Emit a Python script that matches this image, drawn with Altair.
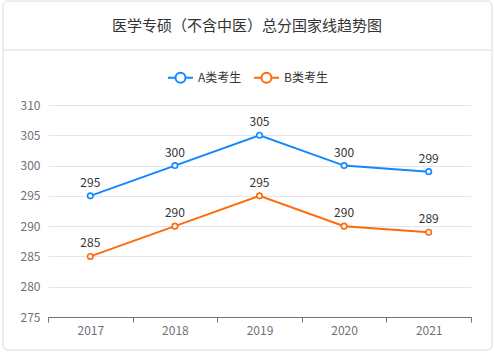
import altair as alt
import pandas as pd

years = ["2017", "2018", "2019", "2020", "2021"]
series_a = [295, 300, 305, 300, 299]
series_b = [285, 290, 295, 290, 289]
series_names = ["A类考生", "B类考生"]
colors = ["#1288ff", "#ff6a0a"]
title_text = "医学专硕（不含中医）总分国家线趋势图"
y_ticks = [275, 280, 285, 290, 295, 300, 305, 310]

rows = []
for name, vals in zip(series_names, [series_a, series_b]):
    for y, v in zip(years, vals):
        rows.append({"year": y, "score": v, "group": name})
df = pd.DataFrame(rows)

FONT = "Noto Sans CJK SC"

x_enc = alt.X("year:O", bandPosition=0.5,
              scale=alt.Scale(type="band", paddingInner=0, paddingOuter=0),
              axis=alt.Axis(title=None, labelAngle=0, tickBand="extent",
                            domainColor="#6e7079", tickColor="#6e7079", tickSize=5,
                            labelColor="#6e7079", labelFontSize=12, labelPadding=3,
                            labelFont=FONT, grid=False))
y_enc = alt.Y("score:Q",
              scale=alt.Scale(domain=[275, 310], nice=False, zero=False),
              axis=alt.Axis(title=None, values=y_ticks, domain=False, ticks=False,
                            labelColor="#6e7079", labelFontSize=12, labelPadding=8,
                            labelFont=FONT, gridColor="#e0e6f1"))
color_enc = alt.Color("group:N",
                      scale=alt.Scale(domain=series_names, range=colors),
                      legend=alt.Legend(title=None, orient="none", direction="horizontal",
                                        legendX=119, legendY=-41,
                                        symbolType="M-1,0L-0.4,0M0.4,0L1,0M0.4,0A0.4,0.4,0,1,1,-0.4,0A0.4,0.4,0,1,1,0.4,0",
                                        symbolSize=625, symbolStrokeWidth=2,
                                        symbolFillColor="white",
                                        labelFont=FONT, labelFontSize=12, labelColor="#333333",
                                        columnPadding=8, labelOffset=4))

base = alt.Chart(df)
lines = base.mark_line(strokeWidth=2).encode(x=x_enc, y=y_enc, color=color_enc)
points = base.mark_point(filled=True, fill="white", size=30, strokeWidth=1.6, opacity=1).encode(
    x=x_enc, y=y_enc, stroke=alt.Stroke("group:N", scale=alt.Scale(domain=series_names, range=colors), legend=None))
labels = base.mark_text(dy=-13, fontSize=12, color="#333333", font=FONT).encode(
    x=x_enc, y=y_enc, text="score:Q")

frame_df = pd.DataFrame({"t": [title_text]})
frame = alt.Chart(frame_df).mark_rect(fill=None, stroke="#dcdcdc", strokeWidth=1, cornerRadius=5).encode(
    x=alt.value(-45), x2=alt.value(444), y=alt.value(-104), y2=alt.value(245))
divider = alt.Chart(frame_df).mark_rule(stroke="#dcdcdc", strokeWidth=1).encode(
    x=alt.value(-45), x2=alt.value(444), y=alt.value(-55))
title = alt.Chart(frame_df).mark_text(fontSize=15, color="#333333", font=FONT, align="center", baseline="middle").encode(
    x=alt.value(199), y=alt.value(-79), text="t:N")

chart = alt.layer(frame, divider, title, lines, points, labels).properties(
    width=423, height=212,
    padding={"left": 48, "top": 105, "right": 23, "bottom": 37},
    autosize=alt.AutoSizeParams(type="none"),
    background="white",
).configure_view(stroke=None).resolve_scale(color="independent", stroke="independent")

chart.save("out.html", embed_options={"renderer": "svg", "actions": False})
